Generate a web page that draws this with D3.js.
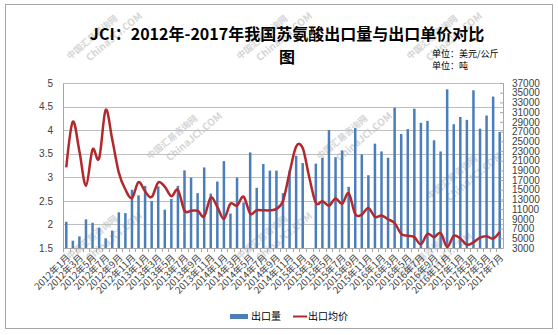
<!DOCTYPE html>
<html>
<head>
<meta charset="utf-8">
<script src="https://cdn.jsdelivr.net/npm/d3@7"></script>
<style>
body { margin: 0; background: #fff; }
svg { display: block; font-family: "Liberation Sans", Arial, sans-serif; }
</style>
</head>
<body>
<div class="chart"></div>
<script>
const months = [
  "2012年1月","2012年2月","2012年3月","2012年4月","2012年5月","2012年6月","2012年7月","2012年8月","2012年9月","2012年10月","2012年11月","2012年12月",
  "2013年1月","2013年2月","2013年3月","2013年4月","2013年5月","2013年6月","2013年7月","2013年8月","2013年9月","2013年10月","2013年11月","2013年12月",
  "2014年1月","2014年2月","2014年3月","2014年4月","2014年5月","2014年6月","2014年7月","2014年8月","2014年9月","2014年10月","2014年11月","2014年12月",
  "2015年1月","2015年2月","2015年3月","2015年4月","2015年5月","2015年6月","2015年7月","2015年8月","2015年9月","2015年10月","2015年11月","2015年12月",
  "2016年1月","2016年2月","2016年3月","2016年4月","2016年5月","2016年6月","2016年7月","2016年8月","2016年9月","2016年10月","2016年11月","2016年12月",
  "2017年1月","2017年2月","2017年3月","2017年4月","2017年5月","2017年6月","2017年7月"
];

// 出口量 (吨)
const volume = [
  8400, 4500, 5400, 8900, 8200, 7150, 5000, 6600, 10350, 10200, 15000, 13850,
  15800, 12700, 15700, 10900, 13100, 15800, 19000, 17500, 14300, 19600, 14200, 16700,
  20900, 10100, 17500, 12400, 22700, 15400, 20300, 18950, 18950, 14300, 18950, 22000,
  20500, null, 20400, 21600, 27300, 21700, 23100, 15600, 27700, 22300, 18000, 24500,
  22900, 21600, 31900, 26500, 27500, 31700, 28800, 29200, 25200, 22900, 35700, 28500,
  30000, 29400, 35500, 27600, 30300, 34200, 26900
];

// 出口均价 (美元/公斤)
const price = [
  3.21, 4.18, 3.55, 2.82, 3.59, 3.40, 4.43, 3.80, 3.10, 2.74, 2.56, 2.90,
  2.70, 2.58, 2.89, 2.80, 2.60, 2.73, 2.29, 2.29, 2.29, 2.17, 2.57, 2.37,
  2.12, 2.44, 2.40, 2.59, 2.23, 2.30, 2.30, 2.30, 2.33, 2.50, 3.10, 3.65,
  3.62, 3.00, 2.46, 2.49, 2.40, 2.55, 2.44, 2.66, 2.22, 2.21, 2.35, 2.16,
  2.19, 2.11, 2.03, 1.80, 1.76, 1.73, 1.58, 1.80, 1.73, 1.82, 1.52, 1.76,
  1.70, 1.57, 1.62, 1.72, 1.75, 1.70, 1.84
];

const leftTicks = [1.5, 2, 2.5, 3, 3.5, 4, 4.5, 5];
const rightTicks = [3000, 5000, 7000, 9000, 11000, 13000, 15000, 17000, 19000, 21000,
                    23000, 25000, 27000, 29000, 31000, 33000, 35000, 37000];

const width = 558;
const height = 335;

const plotLeft = 63;
const plotRight = 503;
const plotTop = 83;
const plotBottom = 248;

const barColor = "#4A7EBB";
const lineColor = "#B3282D";
const gridColor = "#BFBFBF";
const textColor = "#404040";

const data = months.map((m, i) => ({ month: m, volume: volume[i], price: price[i], i: i }));

const svg = d3.select(".chart")
    .append("svg")
    .attr("width", width)
    .attr("height", height);

// outer frame
svg.append("rect")
    .attr("x", 5.5)
    .attr("y", 4.5)
    .attr("width", 547)
    .attr("height", 324)
    .attr("fill", "#fff")
    .attr("stroke", "#A6A6A6");

// faint site watermarks (tiled, behind everything)
const marks = svg.append("g")
    .style("font-family", "'Noto Sans CJK SC', sans-serif")
    .style("font-weight", "bold")
    .attr("fill", "#D6D6D6");
const markSpots = [[70, 60], [240, 60], [410, 60], [150, 160], [320, 160], [430, 200], [70, 260], [240, 260], [400, 280]];
markSpots.forEach(function(p) {
    const g = marks.append("g").attr("transform", "translate(" + p + ") rotate(-40)");
    g.append("text").attr("x", 0).attr("y", 0).style("font-size", "9px").text("中国汇易咨询网");
    g.append("text").attr("x", 14).attr("y", 14).style("font-size", "10px").text("ChinaJCI.COM");
});

const x = d3.scaleBand()
    .domain(months)
    .range([plotLeft, plotRight]);

const yLeft = d3.scaleLinear()
    .domain([1.5, 5])
    .range([plotBottom, plotTop]);

const yRight = d3.scaleLinear()
    .domain([3000, 37000])
    .range([plotBottom, plotTop]);

// gridlines
svg.append("g")
    .selectAll("line")
    .data(leftTicks)
    .enter()
    .append("line")
    .attr("x1", plotLeft)
    .attr("x2", plotRight)
    .attr("y1", d => Math.round(yLeft(d)) + 0.5)
    .attr("y2", d => Math.round(yLeft(d)) + 0.5)
    .attr("stroke", gridColor)
    .attr("stroke-width", 1);

// bars
const barWidth = 2.5;
svg.append("g")
    .selectAll("rect")
    .data(data.filter(d => d.volume != null))
    .enter()
    .append("rect")
    .attr("x", d => x(d.month) + x.bandwidth() / 2 - barWidth / 2)
    .attr("y", d => yRight(d.volume))
    .attr("width", barWidth)
    .attr("height", d => plotBottom - yRight(d.volume))
    .attr("fill", barColor);

// left axis
const leftAxis = svg.append("g")
    .attr("transform", "translate(" + plotLeft + ",0)")
    .call(d3.axisLeft(yLeft).tickValues(leftTicks).tickSize(0).tickPadding(10).tickFormat(d3.format("")));
leftAxis.select(".domain").attr("stroke", "#A6A6A6");
leftAxis.selectAll("text")
    .attr("fill", textColor)
    .style("font-size", "10px");

// right axis, ticks point inwards
const rightAxis = svg.append("g")
    .attr("transform", "translate(" + plotRight + ",0)")
    .call(d3.axisRight(yRight).tickValues(rightTicks).tickSize(-3).tickPadding(9).tickFormat(d3.format("d")));
rightAxis.select(".domain").attr("stroke", "#A6A6A6");
rightAxis.selectAll("line").attr("stroke", "#A6A6A6");
rightAxis.selectAll("text")
    .attr("fill", textColor)
    .style("font-size", "10px");

// bottom axis line + category ticks
svg.append("line")
    .attr("x1", plotLeft)
    .attr("x2", plotRight)
    .attr("y1", plotBottom + 0.5)
    .attr("y2", plotBottom + 0.5)
    .attr("stroke", "#A6A6A6");

svg.append("g")
    .selectAll("line")
    .data(months)
    .enter()
    .append("line")
    .attr("x1", d => Math.round(x(d)) + 0.5)
    .attr("x2", d => Math.round(x(d)) + 0.5)
    .attr("y1", plotBottom)
    .attr("y2", plotBottom + 4)
    .attr("stroke", "#A6A6A6");

// x labels every second month
svg.append("g")
    .selectAll("text")
    .data(data.filter(d => d.i % 2 === 0))
    .enter()
    .append("text")
    .attr("transform", d => "translate(" + (x(d.month) + x.bandwidth() / 2 + 2) + "," + (plotBottom + 8) + ") rotate(-45)")
    .attr("text-anchor", "end")
    .attr("dy", "0.35em")
    .attr("fill", textColor)
    .style("font-size", "9.5px")
    .style("font-family", "'Noto Sans CJK SC', sans-serif")
    .text(d => d.month);

// price line (smoothed)
const line = d3.line()
    .x(d => x(d.month) + x.bandwidth() / 2)
    .y(d => yLeft(d.price))
    .curve(d3.curveCardinal.tension(0));

svg.append("path")
    .datum(data)
    .attr("d", line)
    .attr("fill", "none")
    .attr("stroke", lineColor)
    .attr("stroke-width", 2.5);

// title
const title = svg.append("text")
    .attr("text-anchor", "middle")
    .attr("fill", "#000")
    .style("font-family", "'Noto Sans CJK SC', sans-serif")
    .style("font-weight", "bold")
    .style("font-size", "16px");
title.append("tspan").attr("x", 287).attr("y", 40).text("JCI：2012年-2017年我国苏氨酸出口量与出口单价对比");
title.append("tspan").attr("x", 287).attr("y", 63).text("图");

// units
svg.append("text")
    .attr("x", 432)
    .attr("y", 57)
    .style("font-family", "'Noto Sans CJK SC', sans-serif")
    .style("font-size", "9px")
    .text("单位：美元/公斤");
svg.append("text")
    .attr("x", 432)
    .attr("y", 69)
    .style("font-family", "'Noto Sans CJK SC', sans-serif")
    .style("font-size", "9px")
    .text("单位：吨");

// legend
const legend = svg.append("g")
    .style("font-family", "'Noto Sans CJK SC', sans-serif")
    .style("font-size", "10px");
legend.append("rect")
    .attr("x", 230).attr("y", 314).attr("width", 18).attr("height", 5)
    .attr("fill", barColor);
legend.append("text")
    .attr("x", 251).attr("y", 320)
    .text("出口量");
legend.append("line")
    .attr("x1", 293).attr("x2", 307).attr("y1", 316.5).attr("y2", 316.5)
    .attr("stroke", lineColor).attr("stroke-width", 2);
legend.append("text")
    .attr("x", 308).attr("y", 320)
    .text("出口均价");
</script>
</body>
</html>
